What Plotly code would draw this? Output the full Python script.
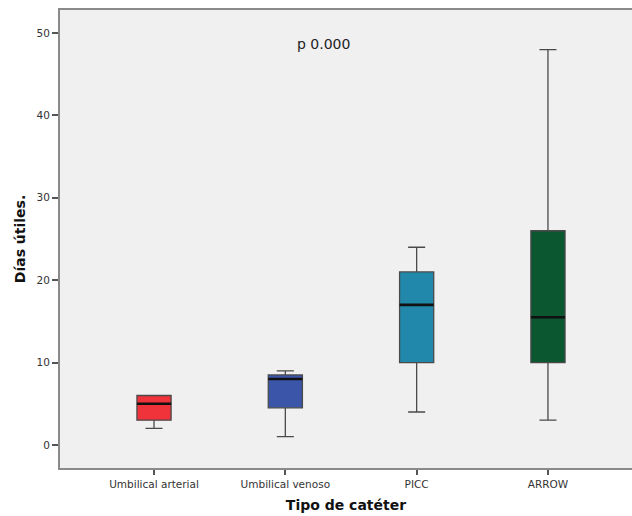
import plotly.graph_objects as go

categories = ["Umbilical arterial", "Umbilical venoso", "PICC", "ARROW"]
lower_fence = [2, 1, 4, 3]
q1_vals = [3, 4.5, 10, 10]
median_vals = [5, 8, 17, 15.5]
q3_vals = [6, 8.5, 21, 26]
upper_fence = [6, 9, 24, 48]
colors = ["#f0333b", "#3b55a8", "#2288ab", "#0b5730"]
y_ticks = [0, 10, 20, 30, 40, 50]

BOX_W = 0.26
positions = list(range(len(categories)))

fig = go.Figure()
for i, cat in enumerate(categories):
    fig.add_trace(go.Box(
        x=[positions[i]], q1=[q1_vals[i]], median=[median_vals[i]], q3=[q3_vals[i]],
        lowerfence=[lower_fence[i]], upperfence=[upper_fence[i]],
        fillcolor=colors[i], line=dict(color="#4a4a4a", width=1.3),
        width=BOX_W, whiskerwidth=0.5, showlegend=False, hoverinfo="skip",
    ))
    # darker, thicker median line drawn over the box
    fig.add_trace(go.Scatter(
        x=[positions[i] - BOX_W / 2, positions[i] + BOX_W / 2],
        y=[median_vals[i], median_vals[i]],
        mode="lines", line=dict(color="#111111", width=2.6),
        showlegend=False, hoverinfo="skip",
    ))

fig.add_annotation(x=1.29, y=48.7, xref="x", yref="y", text="p 0.000",
                   showarrow=False, font=dict(size=14, color="#222"))

fig.update_layout(
    width=632, height=516,
    margin=dict(l=60, r=0, t=10, b=48),
    paper_bgcolor="white", plot_bgcolor="#f0f0f0",
    font=dict(family="DejaVu Sans", size=10, color="#333"),
    boxmode="overlay",
)
fig.update_xaxes(
    range=[-0.716, 3.64], tickvals=positions, ticktext=categories,
    showline=True, linecolor="#8a8a8a", linewidth=2,
    mirror=True, ticks="outside", ticklen=5, tickcolor="#555", tickwidth=1.5,
    showgrid=False, zeroline=False,
    title=dict(text="<b>Tipo de catéter</b>", font=dict(size=14, color="#111"), standoff=12),
    tickfont=dict(size=10.5, color="#333"),
)
fig.update_yaxes(
    range=[-2.8, 52.8], tickvals=y_ticks, showline=True, linecolor="#8a8a8a",
    linewidth=2, ticks="outside", ticklen=6, tickcolor="#555", tickwidth=1.5,
    showgrid=False, zeroline=False,
    title=dict(text="<b>Días útiles.</b>", font=dict(size=14, color="#111"), standoff=8),
    tickfont=dict(size=10.5, color="#333"),
)

fig.write_html("out.html", config={"displayModeBar": False},
               post_script="document.body.style.margin='0';")
